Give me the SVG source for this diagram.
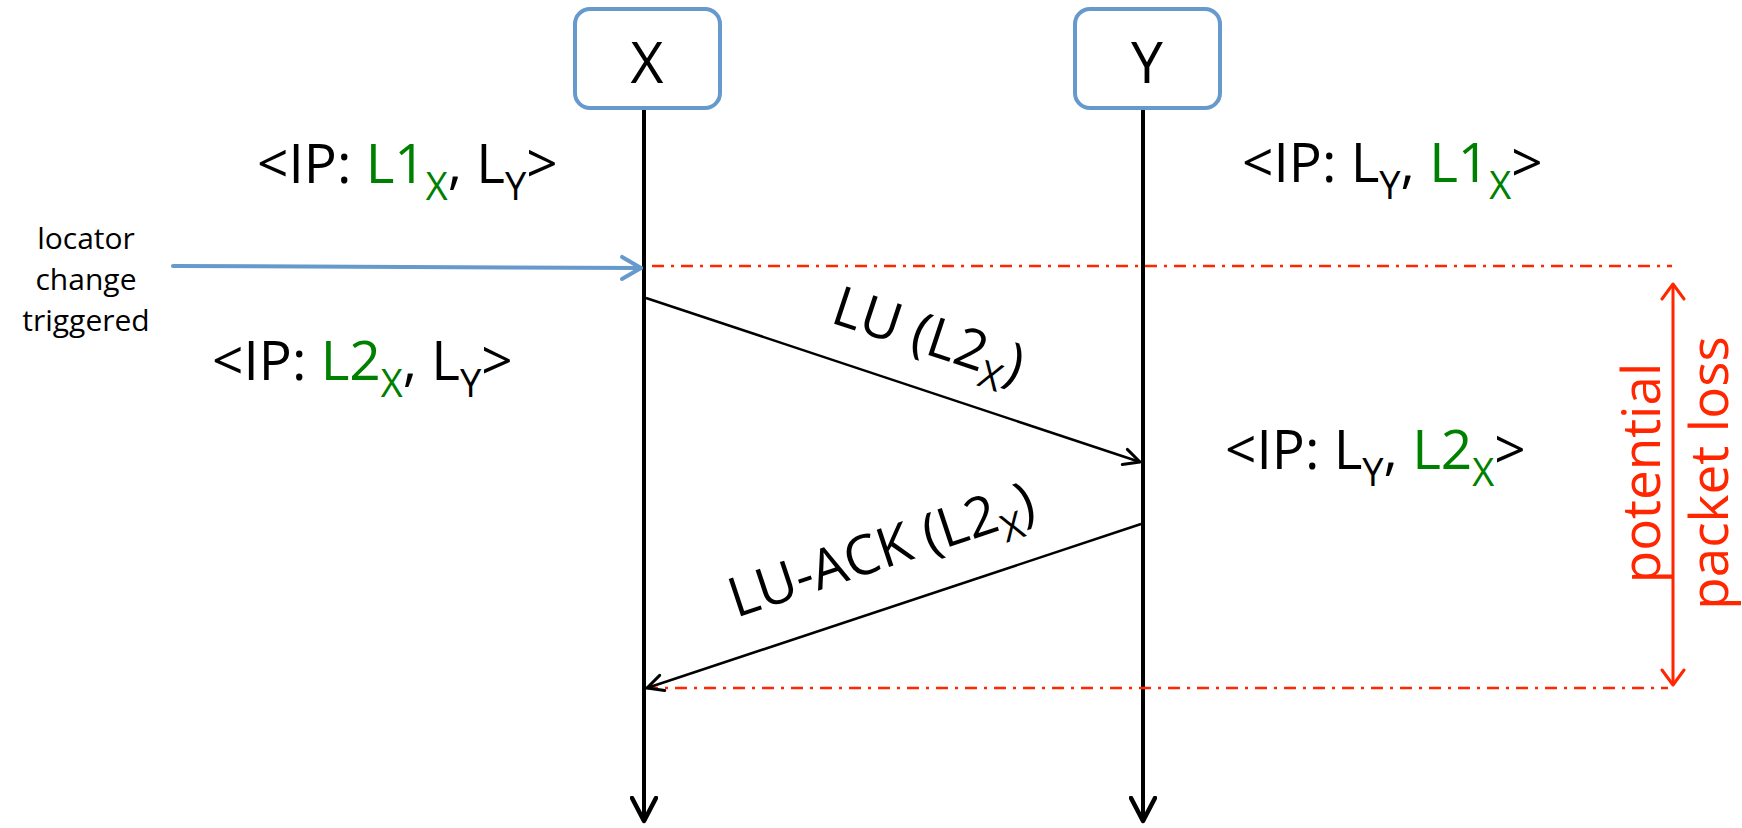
<svg xmlns="http://www.w3.org/2000/svg" width="1742" height="828" viewBox="0 0 1742 828">
<style>
text{font-family:"Open Sans","Liberation Sans",sans-serif;fill:#000}
.ip{font-size:55px}
.sub{font-size:38px}
.g{fill:#008000}
.node{font-size:57px}
.small{font-size:30px}
.msg{font-size:55px}
.red{fill:#ff2600;font-size:53px}
.box{fill:#fff;stroke:#6699cc;stroke-width:4}
.life{stroke:#000;stroke-width:4;fill:none}
.arr{stroke:#000;stroke-width:2.5;fill:none}
.dd{stroke:#ff2600;stroke-width:2.5;stroke-dasharray:12 7 3 7;fill:none}
</style>
<defs>
<marker id="mLife" markerUnits="userSpaceOnUse" viewBox="0 0 28 28" markerWidth="28" markerHeight="28" refX="25" refY="14" orient="auto">
<path d="M2,2 L25,14 L2,26" fill="none" stroke="#000" stroke-width="4.5" stroke-linecap="round" stroke-linejoin="round"/>
</marker>
<marker id="mMsg" markerUnits="userSpaceOnUse" viewBox="0 0 22 22" markerWidth="22" markerHeight="22" refX="19" refY="11" orient="auto">
<path d="M3,3 L19,11 L3,19" fill="none" stroke="#000" stroke-width="3" stroke-linecap="round" stroke-linejoin="round"/>
</marker>
<marker id="mBlue" markerUnits="userSpaceOnUse" viewBox="0 0 26 28" markerWidth="26" markerHeight="28" refX="22" refY="14" orient="auto">
<path d="M3,3 L22,14 L3,25" fill="none" stroke="#6699cc" stroke-width="4" stroke-linecap="round" stroke-linejoin="round"/>
</marker>
<marker id="mRed" markerUnits="userSpaceOnUse" viewBox="0 0 20 26" markerWidth="20" markerHeight="26" refX="17" refY="13" orient="auto-start-reverse">
<path d="M2,2 L17,13 L2,24" fill="none" stroke="#ff2600" stroke-width="3" stroke-linecap="round" stroke-linejoin="round"/>
</marker>
</defs>

<g id="connectors">
<line class="life" x1="644" y1="110" x2="644" y2="821" marker-end="url(#mLife)"/>
<line class="life" x1="1143" y1="110" x2="1143" y2="821" marker-end="url(#mLife)"/>
<line x1="173" y1="266" x2="641" y2="268" stroke="#6699cc" stroke-width="4" stroke-linecap="round" marker-end="url(#mBlue)"/>
<line class="dd" x1="652" y1="266" x2="1672" y2="266"/>
<line class="dd" x1="646" y1="688" x2="1668" y2="688"/>
<line class="arr" x1="646" y1="298" x2="1140" y2="462" marker-end="url(#mMsg)"/>
<line class="arr" x1="1141" y1="524" x2="647" y2="688" marker-end="url(#mMsg)"/>
<line x1="1673" y1="284" x2="1673" y2="685" stroke="#ff2600" stroke-width="3" marker-start="url(#mRed)" marker-end="url(#mRed)"/>
</g>

<g id="node-X">
<rect class="box" x="575" y="9" width="145" height="99" rx="15"/>
<text class="node" x="647" y="83" text-anchor="middle">X</text>
</g>
<g id="node-Y">
<rect class="box" x="1075" y="9" width="145" height="99" rx="15"/>
<text class="node" x="1147" y="83" text-anchor="middle">Y</text>
</g>

<g id="labels">
<text class="ip" x="257" y="183">&lt;IP: <tspan class="g">L1</tspan><tspan class="sub g" dy="17">X</tspan><tspan dy="-17">, L</tspan><tspan class="sub" dy="17">Y</tspan><tspan dy="-17">&gt;</tspan></text>
<text class="ip" x="1242" y="182">&lt;IP: L<tspan class="sub" dy="17">Y</tspan><tspan dy="-17">, </tspan><tspan class="g">L1</tspan><tspan class="sub g" dy="17">X</tspan><tspan dy="-17">&gt;</tspan></text>
<text class="ip" x="212" y="380">&lt;IP: <tspan class="g">L2</tspan><tspan class="sub g" dy="17">X</tspan><tspan dy="-17">, L</tspan><tspan class="sub" dy="17">Y</tspan><tspan dy="-17">&gt;</tspan></text>
<text class="ip" x="1225" y="469">&lt;IP: L<tspan class="sub" dy="17">Y</tspan><tspan dy="-17">, </tspan><tspan class="g">L2</tspan><tspan class="sub g" dy="17">X</tspan><tspan dy="-17">&gt;</tspan></text>
<text class="small" text-anchor="middle" x="86" y="249">locator</text>
<text class="small" text-anchor="middle" x="86" y="290">change</text>
<text class="small" text-anchor="middle" x="86" y="331">triggered</text>
<text class="msg" transform="translate(829,322) rotate(18.3)">LU (L2<tspan class="sub" dy="14">X</tspan><tspan dy="-14">)</tspan></text>
<text class="msg" transform="translate(736,618) rotate(-18.4)">LU-ACK (L2<tspan class="sub" dy="14">X</tspan><tspan dy="-14">)</tspan></text>
<text class="red" text-anchor="middle" transform="translate(1660,473) rotate(-90)">potential</text>
<text class="red" text-anchor="middle" transform="translate(1728,473) rotate(-90)">packet loss</text>
</g>
</svg>
